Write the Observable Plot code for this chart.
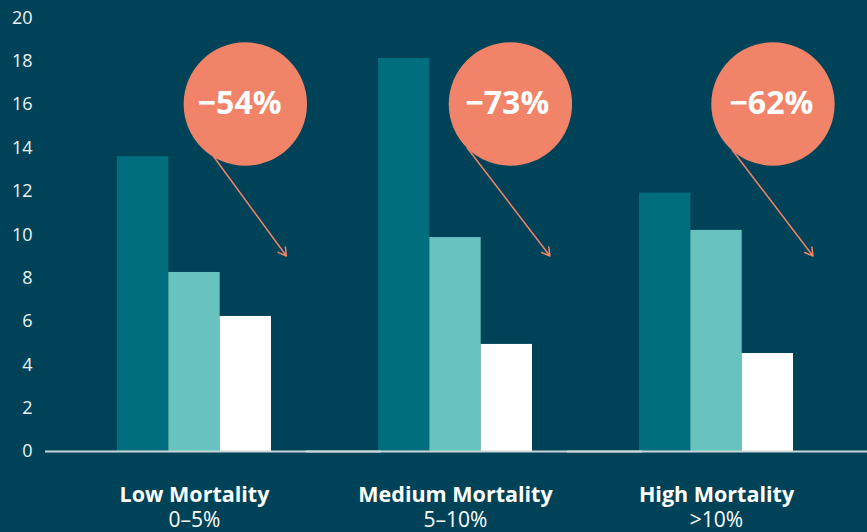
<!DOCTYPE html>
<html>
<head>
<meta charset="utf-8">
<script src="https://cdn.jsdelivr.net/npm/d3@7"></script>
<script src="https://cdn.jsdelivr.net/npm/@observablehq/plot@0.6"></script>
<style>
  html, body { margin: 0; padding: 0; background: #004359; overflow: hidden; }
  #chart { width: 867px; height: 532px; overflow: hidden; }
</style>
</head>
<body>
<div id="chart"></div>
<script>
// Data
const groups = ["Low Mortality", "Medium Mortality", "High Mortality"];
const ranges = ["0–5%", "5–10%", ">10%"];
const series = ["Period 1", "Period 2", "Period 3"];
const period1 = [13.6, 18.13, 11.92];
const period2 = [8.26, 9.87, 10.2];
const period3 = [6.23, 4.94, 4.52];
const yTicks = [0, 2, 4, 6, 8, 10, 12, 14, 16, 18, 20];

// Annotations (x in bar-slot units within each group, y in data units)
const changeLabels = ["−54%", "−73%", "−62%"];
const circleX = [2.49, 2.57, 2.60];
const circleY = [16.03, 16.03, 16.03];
const labelX = [2.38, 2.51, 2.57];
const arrowX1 = [1.75, 1.73, 1.81];
const arrowY1 = [14.0, 14.0, 13.9];
const arrowX2 = [3.29, 3.34, 3.38];
const arrowY2 = [9.02, 9.02, 9.02];

const seriesValues = [period1, period2, period3];
const rows = groups.flatMap((g, i) =>
  series.map((s, j) => ({group: g, series: s, idx: j, value: seriesValues[j][i]}))
);
const annots = groups.map((g, i) => ({
  group: g, label: changeLabels[i],
  cx: circleX[i], cy: circleY[i], lx: labelX[i],
  x1: arrowX1[i], y1: arrowY1[i], x2: arrowX2[i], y2: arrowY2[i]
}));

const bg = "#004359";
const salmon = "#f18468";

const chart = Plot.plot({
  width: 867,
  height: 532,
  marginLeft: 47,
  marginRight: 0,
  marginTop: 17.5,
  marginBottom: 81,
  style: {background: bg, color: "#eef3f4", fontFamily: "'Open Sans', sans-serif", overflow: "hidden"},
  fx: {domain: groups, paddingInner: 0.40996, paddingOuter: 0.27586, align: 0.4861, label: null},
  x: {domain: [0, 3], axis: null},
  y: {domain: [0, 20], label: null},
  color: {domain: series, range: ["#006e7d", "#68c3bf", "#ffffff"]},
  marks: [
    Plot.axisY({ticks: yTicks, tickSize: 0, tickPadding: 85, fontSize: 18, label: null, fill: "#eef3f4"}),
    Plot.axisFx({anchor: "bottom", tickSize: 0, tickPadding: 35, fontSize: 21.5, fontWeight: "bold", label: null, fill: "#ffffff"}),
    Plot.axisFx({anchor: "bottom", tickSize: 0, tickPadding: 61, fontSize: 21, label: null, fill: "#ffffff",
      tickFormat: g => ranges[groups.indexOf(g)]}),
    Plot.rectY(rows, {fx: "group", x1: "idx", x2: d => d.idx + 1, y: "value", fill: "series"}),
    Plot.ruleY([0], {stroke: "#c9d6da", strokeWidth: 2, insetLeft: -72, insetRight: -110}),
    Plot.arrow(annots, {fx: "group", x1: "x1", y1: "y1", x2: "x2", y2: "y2",
      stroke: salmon, strokeWidth: 1.5, headLength: 9, headAngle: 60}),
    Plot.dot(annots, {fx: "group", x: "cx", y: "cy", r: 61.7, fill: salmon, stroke: null}),
    Plot.text(annots, {fx: "group", x: "lx", y: "cy", text: "label", fill: "#ffffff",
      fontSize: 32, fontWeight: "bold"})
  ]
});
document.getElementById("chart").appendChild(chart);
</script>
</body>
</html>
